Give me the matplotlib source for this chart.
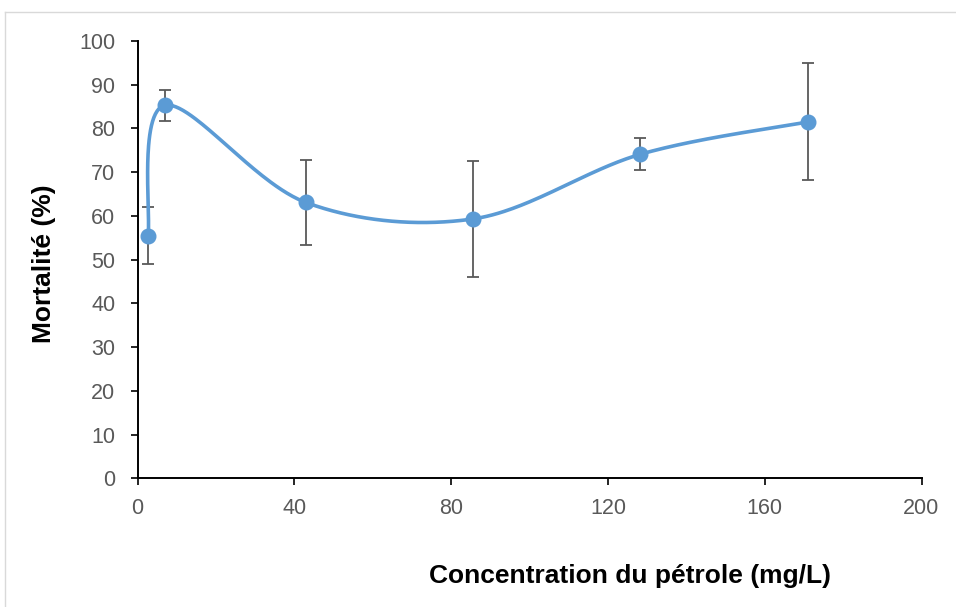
import numpy as np
import matplotlib.pyplot as plt
from matplotlib.lines import Line2D

plt.rcParams['font.family'] = ['Liberation Sans', 'DejaVu Sans']

# concentration du pétrole (mg/L), mortalité moyenne (%) et écart-type
conc = [2.7, 7.0, 42.9, 85.5, 128.3, 171.0]
mortalite = [55.5, 85.3, 63.1, 59.3, 74.1, 81.5]
ecart = [6.5, 3.6, 9.8, 13.3, 3.7, 13.4]

xticks = [0, 40, 80, 120, 160, 200]
yticks = list(range(0, 101, 10))

bleu = '#5B9BD5'
gris = '#595959'

fig = plt.figure(figsize=(9.56, 6.07), dpi=100)
ax = fig.add_axes([137.5 / 956, 128.7 / 607, 784 / 956, 437.3 / 607])
ax.set_xlim(0, 200)
ax.set_ylim(0, 100)

# courbe lissée (Bezier type Catmull-Rom, calculée en pixels)
pts = ax.transData.transform(np.column_stack([conc, mortalite]))
ext = np.vstack([pts[0], pts, pts[-1]])
courbe = []
for i in range(len(pts) - 1):
    p0, p1, p2, p3 = ext[i], ext[i + 1], ext[i + 2], ext[i + 3]
    c1 = p1 + (p2 - p0) / 6
    c2 = p2 - (p3 - p1) / 6
    t = np.linspace(0, 1, 60)[:, None]
    seg = (1 - t) ** 3 * p1 + 3 * (1 - t) ** 2 * t * c1 + 3 * (1 - t) * t ** 2 * c2 + t ** 3 * p2
    courbe.append(seg)
courbe = ax.transData.inverted().transform(np.vstack(courbe))
ax.plot(courbe[:, 0], courbe[:, 1], color=bleu, lw=2.6, solid_capstyle='round', zorder=3)

ax.errorbar(conc, mortalite, yerr=ecart, fmt='none', ecolor=gris, elinewidth=1.3,
            capsize=4.3, capthick=1.3, zorder=2)
ax.plot(conc, mortalite, 'o', color=bleu, ms=10.5, zorder=4)

ax.set_xticks(xticks)
ax.set_yticks(yticks)
ax.tick_params(axis='both', direction='out', length=5, width=1.2, colors='black',
               labelcolor=gris, labelsize=15.5)
ax.tick_params(axis='y', pad=11)
ax.tick_params(axis='x', pad=9)
for s in ['top', 'right']:
    ax.spines[s].set_visible(False)
for s in ['left', 'bottom']:
    ax.spines[s].set_linewidth(1.4)

fig.text(44 / 956, 1 - 264 / 607, 'Mortalité (%)', fontsize=19, fontweight='bold',
         rotation=90, ha='center', va='center')
fig.text(630 / 956, 1 - 583 / 607, 'Concentration du pétrole (mg/L)', fontsize=19,
         fontweight='bold', ha='center', va='baseline')

# cadre gris clair autour du graphique
fig.add_artist(Line2D([5 / 956, 1], [1 - 12 / 607] * 2, color='#D9D9D9', lw=1, transform=fig.transFigure))
fig.add_artist(Line2D([5 / 956] * 2, [0, 1 - 12 / 607], color='#D9D9D9', lw=1, transform=fig.transFigure))

fig.savefig('out.png', dpi=100)
